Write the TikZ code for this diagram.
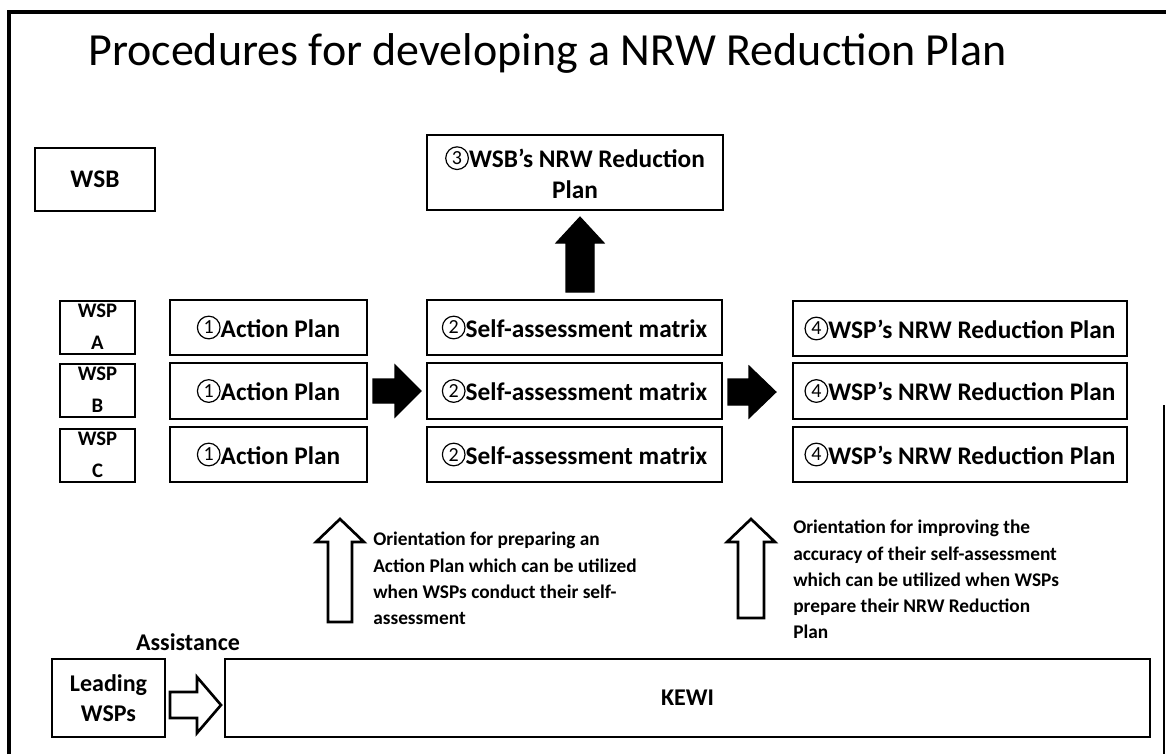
\documentclass[tikz,border=0pt]{standalone}
\usepackage{fontspec}
\setmainfont{Carlito}
\newcommand{\cn}[1]{\tikz[baseline={([yshift=-2.5pt]cnum.base)}]\node[circle,draw,line width=0.9pt,inner sep=0pt,minimum size=17pt,font=\mdseries\fontsize{15}{15}\selectfont](cnum){#1};}
\begin{document}
\begin{tikzpicture}[x=0.75pt,y=-0.75pt,
  box/.style={draw,line width=1.5pt,inner sep=0pt,align=center,
    font=\bfseries\fontsize{19}{23}\selectfont},
  thickbox/.style={box,line width=2.2pt},
  wspbox/.style={draw,line width=1.5pt,inner sep=0pt,align=center,
    minimum width=56.25pt,minimum height=39.75pt,
    font=\bfseries\fontsize{15.5}{24}\selectfont},
  note/.style={inner sep=0pt,align=left,anchor=north west,
    font=\bfseries\fontsize{14.5}{19.7}\selectfont},
  solidarrow/.style={fill=black,draw=black,line width=0.8pt,line join=miter},
  hollowarrow/.style={draw=black,fill=white,line width=2pt,line join=miter}]
\useasboundingbox (0,0) rectangle (1166,754);
% frame
\draw[line width=2.4pt] (9,754) -- (9,12) -- (1166,12);
\draw[line width=1pt] (1164,405) -- (1164,754);
% title
\node[anchor=west,inner sep=0pt,font=\fontsize{34.5}{40}\selectfont] (title) at (88,53)
  {Procedures for developing a NRW Reduction Plan};
% WSB level
\node[box,minimum width=90pt,minimum height=47.25pt] (wsb) at (95,179.5) {WSB};
\node[box,minimum width=222pt,minimum height=56.25pt] (p3) at (575,172.5)
  {\cn{3}WSB's NRW Reduction\\Plan};
% WSP boxes
\node[wspbox] (wa) at (97.5,327) {WSP\\A};
\node[wspbox] (wb) at (97.5,390) {WSP\\B};
\node[wspbox] (wc) at (97.5,455) {WSP\\C};
% action plans
\node[box,minimum width=147.75pt,minimum height=41.25pt] (a1) at (268.5,327.5) {\cn{1}Action Plan};
\node[thickbox,minimum width=147.75pt,minimum height=42pt] (a2) at (268.5,391) {\cn{1}Action Plan};
\node[box,minimum width=147.75pt,minimum height=41.25pt] (a3) at (268.5,454.5) {\cn{1}Action Plan};
% self-assessment
\node[box,minimum width=221.25pt,minimum height=41.25pt] (s1) at (574.5,327.5) {\cn{2}Self-assessment matrix};
\node[thickbox,minimum width=221.25pt,minimum height=42pt] (s2) at (574.5,391) {\cn{2}Self-assessment matrix};
\node[box,minimum width=221.25pt,minimum height=41.25pt] (s3) at (574.5,454.5) {\cn{2}Self-assessment matrix};
% WSP NRW plans
\node[box,minimum width=250.5pt,minimum height=41.25pt] (r1) at (960,328.5) {\cn{4}WSP's NRW Reduction Plan};
\node[thickbox,minimum width=250.5pt,minimum height=42pt] (r2) at (960,391) {\cn{4}WSP's NRW Reduction Plan};
\node[box,minimum width=250.5pt,minimum height=41.25pt] (r3) at (960,454.5) {\cn{4}WSP's NRW Reduction Plan};
% solid arrows
\filldraw[solidarrow] (566,292) -- (566,243) -- (556,243) -- (580,217) -- (604,243) -- (594,243) -- (594,292) -- cycle;
\filldraw[solidarrow] (373,379) -- (395,379) -- (395,365) -- (421,391) -- (395,417) -- (395,403) -- (373,403) -- cycle;
\filldraw[solidarrow] (728,379) -- (749,379) -- (749,366) -- (776,392) -- (749,418) -- (749,405) -- (728,405) -- cycle;
% hollow up arrows
\draw[hollowarrow] (328,622) -- (328,542) -- (316,542) -- (340,519) -- (364,542) -- (352,542) -- (352,622) -- cycle;
\draw[hollowarrow] (738,618) -- (738,542) -- (727,542) -- (751,519) -- (775,542) -- (764,542) -- (764,618) -- cycle;
% notes
\node[note] (n1) at (373,532) {Orientation for preparing an\\Action Plan which can be utilized\\when WSPs conduct their self-\\assessment};
\node[note] (n2) at (793,520) {Orientation for improving the\\accuracy of their self-assessment\\which can be utilized when WSPs\\prepare their NRW Reduction\\Plan};
% bottom
\node[inner sep=0pt,font=\bfseries\fontsize{18}{20}\selectfont] (assist) at (188,642) {Assistance};
\node[box,minimum width=84.75pt,minimum height=58.5pt,font=\bfseries\fontsize{18}{22}\selectfont] (lead) at (108.5,698) {Leading\\WSPs};
\node[box,minimum width=693.75pt,minimum height=58.5pt,font=\bfseries\fontsize{18}{22}\selectfont] (kewi) at (687.5,698) {KEWI};
\draw[hollowarrow] (170,692) -- (197,692) -- (197,677) -- (221,705) -- (197,733) -- (197,718) -- (170,718) -- cycle;
\end{tikzpicture}
\end{document}
